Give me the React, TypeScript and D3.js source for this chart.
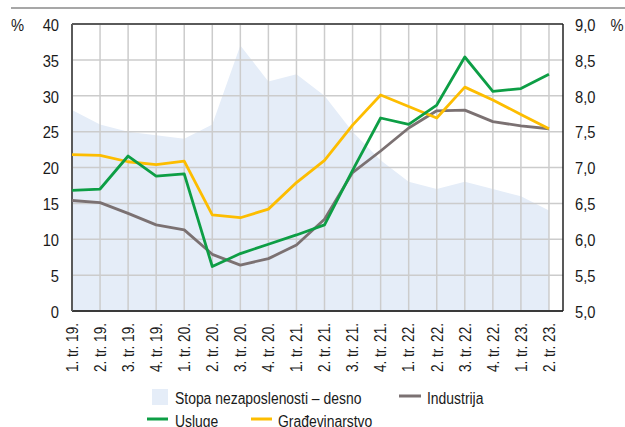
import React from "react";
import * as d3 from "d3";

const categories = [
  "1. tr. 19.", "2. tr. 19.", "3. tr. 19.", "4. tr. 19.",
  "1. tr. 20.", "2. tr. 20.", "3. tr. 20.", "4. tr. 20.",
  "1. tr. 21.", "2. tr. 21.", "3. tr. 21.", "4. tr. 21.",
  "1. tr. 22.", "2. tr. 22.", "3. tr. 22.", "4. tr. 22.",
  "1. tr. 23.", "2. tr. 23.",
];
const unemployment = [7.8, 7.6, 7.5, 7.45, 7.4, 7.6, 8.7, 8.2, 8.3, 8.0, 7.5, 7.1, 6.8, 6.7, 6.8, 6.7, 6.6, 6.4];
const industrija = [15.4, 15.1, 13.6, 12.0, 11.3, 7.9, 6.4, 7.3, 9.2, 12.8, 19.3, 22.3, 25.5, 27.9, 28.0, 26.4, 25.8, 25.4];
const usluge = [16.8, 17.0, 21.6, 18.8, 19.1, 6.2, 8.0, 9.3, 10.6, 12.0, 19.6, 26.9, 26.0, 28.7, 35.4, 30.6, 31.0, 33.0];
const gradevinarstvo = [21.8, 21.7, 20.8, 20.4, 20.9, 13.4, 13.0, 14.2, 17.9, 21.0, 25.9, 30.1, 28.5, 26.9, 31.2, 29.4, 27.4, 25.4];
const leftTicks = [0, 5, 10, 15, 20, 25, 30, 35, 40];
const rightTicks = [5.0, 5.5, 6.0, 6.5, 7.0, 7.5, 8.0, 8.5, 9.0];

const FONT = "'Liberation Sans', Arial, sans-serif";
const C_AREA = "#e5edf8";
const C_IND = "#7b7172";
const C_USL = "#0d9e45";
const C_GRA = "#fdbd00";
const C_TXT = "#1a1a1a";

type TProps = {
  x: number; y: number; children: React.ReactNode; anchor?: string; rotate?: number;
  sx?: number; size?: number; dy?: string;
};
function T({ x, y, children, anchor = "start", rotate = 0, sx = 0.87, size = 16, dy }: TProps) {
  return (
    <g transform={`translate(${x},${y}) rotate(${rotate}) scale(${sx},1)`}>
      <text x={0} y={0} dy={dy} textAnchor={anchor} fontSize={size} fill={C_TXT}>{children}</text>
    </g>
  );
}

export default function App() {
  const left = 72, right = 563, top = 24, bottom = 311;
  const x = d3.scaleLinear().domain([0, categories.length - 0.5]).range([left, right]);
  const yL = d3.scaleLinear().domain([0, 40]).range([bottom, top]);
  const yR = d3.scaleLinear().domain([5, 9]).range([bottom, top]);
  const idx = categories.map((_, i) => i);

  const area = d3.area<number>().x((i) => x(i)).y0(bottom).y1((i) => yR(unemployment[i]))(idx) || "";
  const line = (arr: number[]) => d3.line<number>().x((i) => x(i)).y((i) => yL(arr[i]))(idx) || "";

  return (
    <svg width={625} height={427} style={{ position: "absolute", left: 0, top: 0, fontFamily: FONT }}>
      <rect width={625} height={427} fill="#fff" />
      <line x1={11} x2={625} y1={8} y2={8} stroke="#8a8a8a" strokeWidth={1.5} />
      <path d={area} fill={C_AREA} />
      {leftTicks.slice(1, -1).map((t) => (
        <line key={"h" + t} x1={left} x2={right} y1={yL(t)} y2={yL(t)} stroke="#cccccc" strokeWidth={1.5} />
      ))}
      {idx.slice(1).map((i) => (
        <line key={"v" + i} x1={x(i)} x2={x(i)} y1={top} y2={bottom} stroke="#cccccc" strokeWidth={1.5} />
      ))}
      <line x1={left} x2={right} y1={top} y2={top} stroke="#5a5a5a" strokeWidth={2} />
      <line x1={left} x2={right} y1={bottom} y2={bottom} stroke="#3a3a3a" strokeWidth={2} />
      <line x1={left} x2={left} y1={top} y2={bottom} stroke="#5a5a5a" strokeWidth={2} />
      <line x1={right} x2={right} y1={top} y2={bottom} stroke="#222" strokeWidth={1.5} />
      <path d={line(industrija)} fill="none" stroke={C_IND} strokeWidth={2.8} strokeLinejoin="round" />
      <path d={line(gradevinarstvo)} fill="none" stroke={C_GRA} strokeWidth={2.8} strokeLinejoin="round" />
      <path d={line(usluge)} fill="none" stroke={C_USL} strokeWidth={2.8} strokeLinejoin="round" />
      {leftTicks.map((t) => (
        <T key={"l" + t} x={59} y={yL(t) + 1} dy="0.36em" anchor="end" sx={0.92}>{t}</T>
      ))}
      {rightTicks.map((t) => (
        <T key={"r" + t} x={575} y={yR(t) + 1} dy="0.36em" sx={0.92}>{t.toFixed(1).replace(".", ",")}</T>
      ))}
      <T x={11} y={top + 1} dy="0.36em" sx={0.92}>%</T>
      <T x={610.5} y={top + 1} dy="0.36em" sx={0.92}>%</T>
      {categories.map((c, i) => (
        <T key={"x" + i} x={x(i)} y={323} rotate={-90} anchor="end" dy="0.36em" sx={0.85}>{c}</T>
      ))}
      <rect x={152} y={389} width={16} height={16} fill={C_AREA} />
      <T x={175} y={403.5}>Stopa nezaposlenosti – desno</T>
      <line x1={399} x2={421} y1={396} y2={396} stroke={C_IND} strokeWidth={3} />
      <T x={427} y={403.5}>Industrija</T>
      <line x1={147} x2={168} y1={419} y2={419} stroke={C_USL} strokeWidth={3} />
      <T x={175} y={427}>Usluge</T>
      <line x1={251} x2={272} y1={419} y2={419} stroke={C_GRA} strokeWidth={3} />
      <T x={278} y={427}>Građevinarstvo</T>
    </svg>
  );
}
